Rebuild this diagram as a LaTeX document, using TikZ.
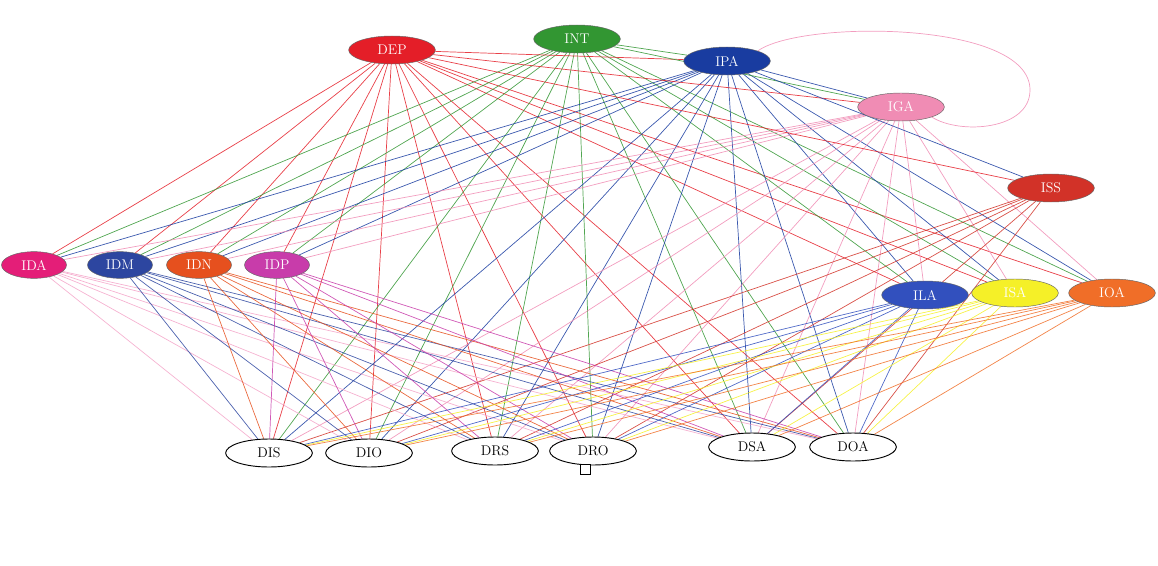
\documentclass[tikz,border=0pt]{standalone}
\usetikzlibrary{shapes.geometric}
\definecolor{cDEP}{RGB}{228,30,40}
\definecolor{cINT}{RGB}{50,150,50}
\definecolor{cIPA}{RGB}{25,60,160}
\definecolor{cIGA}{RGB}{240,140,180}
\definecolor{cISS}{RGB}{210,50,40}
\definecolor{cIDA}{RGB}{228,30,120}
\definecolor{cIDM}{RGB}{45,70,160}
\definecolor{cIDN}{RGB}{230,80,30}
\definecolor{cIDP}{RGB}{200,60,170}
\definecolor{cILA}{RGB}{50,80,190}
\definecolor{cISA}{RGB}{245,240,40}
\definecolor{cIOA}{RGB}{240,110,40}
\tikzset{
 nd/.style={ellipse,draw=black!60,fill=#1,text=white,minimum width=2.6cm,minimum height=0.84cm,inner sep=0pt,font=\fontsize{12}{14}\selectfont},
 sm/.style={minimum width=1.95cm,minimum height=0.8cm},
 dn/.style={ellipse,draw=black,thick,fill=white,text=black,minimum width=2.6cm,minimum height=0.84cm,inner sep=0pt,font=\fontsize{12}{14}\selectfont},
 ln/.style={draw=#1,line width=0.6pt,opacity=0.85}
}
\begin{document}
\begin{tikzpicture}[x=0.03cm,y=-0.03cm]
\useasboundingbox (0,0) rectangle (1158,566);
\node[nd=cDEP] (DEP) at (392,50) {DEP};
\node[nd=cINT] (INT) at (577,39) {INT};
\node[nd=cIPA] (IPA) at (727,61) {IPA};
\node[nd=cIGA] (IGA) at (901,107) {IGA};
\node[nd=cISS] (ISS) at (1051,188) {ISS};
\node[nd=cIDA,sm] (IDA) at (34,265) {IDA};
\node[nd=cIDM,sm] (IDM) at (120,265) {IDM};
\node[nd=cIDN,sm] (IDN) at (199,265) {IDN};
\node[nd=cIDP,sm] (IDP) at (277,265) {IDP};
\node[nd=cILA] (ILA) at (925,295) {ILA};
\node[nd=cISA] (ISA) at (1015,293) {ISA};
\node[nd=cIOA] (IOA) at (1112,293) {IOA};
\node[dn] (DIS) at (269,453) {DIS};
\node[dn] (DIO) at (369,453) {DIO};
\node[dn] (DRS) at (495,451) {DRS};
\node[dn] (DRO) at (593,451) {DRO};
\node[dn] (DSA) at (752,447) {DSA};
\node[dn] (DOA) at (853,447) {DOA};
\node[draw,thick,fill=white,minimum size=0.3cm,inner sep=0pt] (sq) at (585,469) {};
\pgfdeclarelayer{bg}\pgfsetlayers{bg,main}
\begin{pgfonlayer}{bg}
\foreach \t/\c in {DEP/cDEP,INT/cINT,IPA/cIPA,IGA/cIGA}{
 \foreach \m in {IDA,IDM,IDN,IDP,ILA,ISA,IOA,DIS,DIO,DRS,DRO,DSA,DOA}{
  \draw[ln=\c] (\t) -- (\m);
 }}
\foreach \b in {DIS,DIO,DRS,DRO,DSA,DOA}{\draw[ln=cISS] (ISS) -- (\b);}
\foreach \m/\c in {IDA/cIDA!40,IDM/cIDM,IDN/cIDN,IDP/cIDP,ILA/cILA,ISA/cISA,IOA/cIOA}{
 \foreach \b in {DIS,DIO,DRS,DRO,DSA,DOA}{
  \draw[ln=\c] (\m) -- (\b);
 }}
\draw[ln=cDEP] (DEP) -- (IPA);
\draw[ln=cDEP] (DEP) -- (IGA);
\draw[ln=cDEP] (DEP) -- (ISS);
\draw[ln=cINT] (INT) -- (IGA);
\draw[ln=cINT] (INT) -- (IPA);
\draw[ln=cIPA] (IPA) -- (IGA);
\draw[ln=cIPA] (IPA) -- (ISS);
\draw[ln=cIGA] (IPA.north east) .. controls (800,20) and (1030,20) .. (1030,90) .. controls (1030,130) and (960,135) .. (IGA.south east);
\end{pgfonlayer}
\end{tikzpicture}
\end{document}
